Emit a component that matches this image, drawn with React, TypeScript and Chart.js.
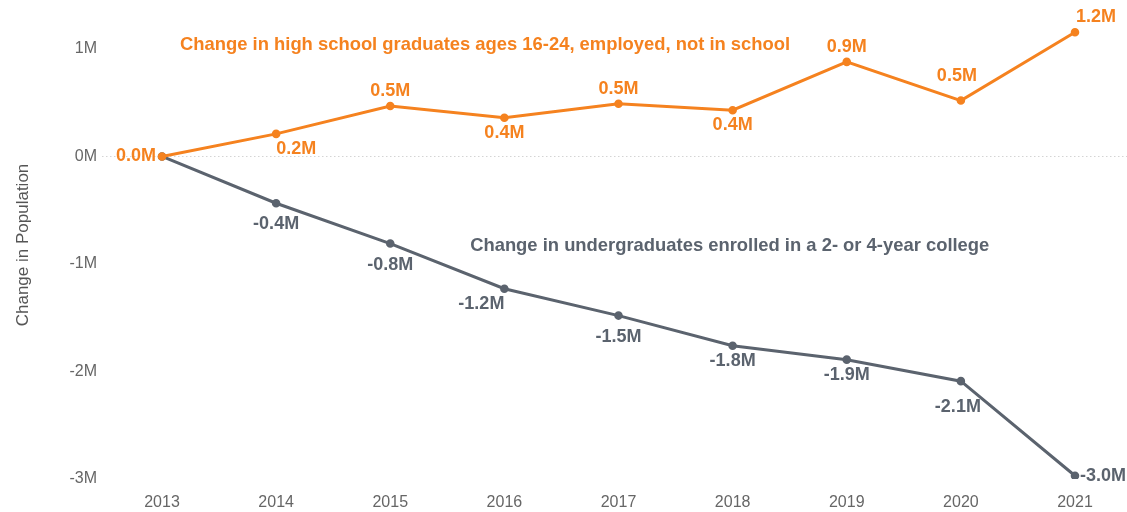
import React, { useEffect, useRef } from "react";
import { Chart, registerables } from "chart.js";

Chart.register(...registerables);

const years = ["2013", "2014", "2015", "2016", "2017", "2018", "2019", "2020", "2021"];
const hsEmployed = [0, 0.21, 0.47, 0.36, 0.49, 0.43, 0.88, 0.52, 1.155];
const undergrads = [0, -0.435, -0.81, -1.23, -1.48, -1.76, -1.89, -2.09, -2.97];
const yTicks = [-3, -2, -1, 0, 1];

const hsTitle = "Change in high school graduates ages 16-24, employed, not in school";
const ugTitle = "Change in undergraduates enrolled in a 2- or 4-year college";

const ORANGE = "#F5821F";
const GRAY = "#5B636E";
const FAMILY = "'Liberation Sans', Arial, sans-serif";

// label placement per point (style only)
const hsPlace = ["left", "belowRight", "above", "below", "above", "below", "above", "aboveFar", "aboveRight"];
const ugPlace = [null, "belowFar", "belowFar", "belowLeft", "belowFar", "below", "below", "belowFar2", "right"];

const fmt = (v: number) => {
  const r = Math.round(v * 10) / 10;
  return (Object.is(r, -0) ? 0 : r).toFixed(1) + "M";
};

const labelPlugin = {
  id: "pointLabels",
  beforeDatasetsDraw(chart: any) {
    const { ctx, scales } = chart;
    const y0 = scales.y.getPixelForValue(0);
    ctx.save();
    ctx.strokeStyle = "#d4d4d4";
    ctx.lineWidth = 1;
    ctx.setLineDash([1.5, 2.5]);
    ctx.beginPath();
    ctx.moveTo(102, Math.round(y0) + 0.5);
    ctx.lineTo(chart.width, Math.round(y0) + 0.5);
    ctx.stroke();
    ctx.restore();
  },
  afterDatasetsDraw(chart: any) {
    const { ctx, scales } = chart;
    ctx.save();
    ctx.font = `bold 18px ${FAMILY}`;
    ctx.textBaseline = "middle";
    const places = [hsPlace, ugPlace];
    const colors = [ORANGE, GRAY];
    chart.data.datasets.forEach((ds: any, i: number) => {
      const meta = chart.getDatasetMeta(i);
      meta.data.forEach((pt: any, j: number) => {
        const p = places[i][j];
        if (!p) return;
        const txt = fmt(ds.data[j]);
        let x = pt.x;
        let y = pt.y;
        let align: CanvasTextAlign = "center";
        switch (p) {
          case "left": align = "right"; x -= 6; break;
          case "right": align = "left"; x += 5; break;
          case "above": y -= 15; break;
          case "aboveFar": y -= 25; x -= 4; break;
          case "aboveRight": align = "left"; x += 1; y -= 15; break;
          case "below": y += 15; break;
          case "belowFar": y += 21; break;
          case "belowFar2": y += 26; x -= 3; break;
          case "belowLeft": align = "right"; y += 15; break;
          case "belowRight": align = "left"; y += 15; break;
        }
        ctx.fillStyle = colors[i];
        ctx.textAlign = align;
        ctx.fillText(txt, x, y);
      });
    });
    ctx.font = `bold 18.4px ${FAMILY}`;
    ctx.textAlign = "left";
    ctx.fillStyle = ORANGE;
    ctx.fillText(hsTitle, scales.x.getPixelForValue(0.158), scales.y.getPixelForValue(1.04));
    ctx.fillStyle = GRAY;
    ctx.fillText(ugTitle, scales.x.getPixelForValue(2.7), scales.y.getPixelForValue(-0.83));
    ctx.restore();
  },
};

export default function App() {
  const ref = useRef<HTMLCanvasElement>(null);
  useEffect(() => {
    document.body.style.margin = "0";
    const chart = new Chart(ref.current!, {
      type: "line",
      data: {
        labels: years,
        datasets: [
          {
            data: hsEmployed,
            borderColor: ORANGE,
            backgroundColor: ORANGE,
            borderWidth: 3,
            pointRadius: 2.8,
            pointHoverRadius: 2.8,
            tension: 0,
          },
          {
            data: undergrads,
            borderColor: GRAY,
            backgroundColor: GRAY,
            borderWidth: 3,
            pointRadius: 2.8,
            pointHoverRadius: 2.8,
            tension: 0,
          },
        ],
      },
      options: {
        animation: false,
        responsive: true,
        maintainAspectRatio: false,
        layout: { padding: { top: 11, right: 52, bottom: 0, left: 0 } },
        plugins: {
          legend: { display: false },
          tooltip: { enabled: false },
        },
        scales: {
          x: {
            offset: false,
            grid: { display: false, drawTicks: false },
            border: { display: false },
            ticks: {
              padding: 14,
              color: "#666",
              font: { family: FAMILY, size: 16 },
              maxRotation: 0,
            },
            afterFit: (s: any) => { s.height = 33; s.paddingLeft = 0; s.paddingRight = 0; },
          },
          y: {
            min: -3,
            max: 1.353,
            grid: { display: false, drawTicks: false },
            border: { display: false },
            afterBuildTicks: (s: any) => { s.ticks = yTicks.map((v) => ({ value: v })); },
            afterFit: (s: any) => { s.width = 162; s.paddingTop = 0; s.paddingBottom = 0; },
            ticks: {
              padding: 65,
              color: "#666",
              font: { family: FAMILY, size: 16 },
              callback: (v: any) => v + "M",
            },
            title: {
              display: true,
              text: "Change in Population",
              color: "#555",
              padding: { top: 13, bottom: 0 },
              font: { family: FAMILY, size: 17 },
            },
          },
        },
      },
      plugins: [labelPlugin],
    });
    return () => chart.destroy();
  }, []);
  return (
    <div style={{ position: "relative", width: 1127, height: 512 }}>
      <canvas ref={ref} />
    </div>
  );
}
